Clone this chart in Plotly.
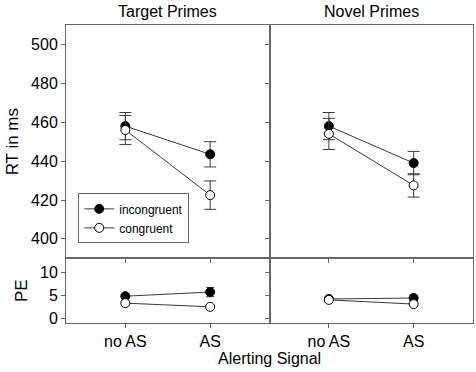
import plotly.graph_objects as go
from plotly.subplots import make_subplots

# ---- data ----
conditions = ["no AS", "AS"]
panels = ["Target Primes", "Novel Primes"]

rt_target_incong = [458.0, 443.5]
rt_target_incong_err = [7.0, 6.5]
rt_target_cong = [456.0, 422.5]
rt_target_cong_err = [7.5, 7.3]

rt_novel_incong = [458.0, 439.0]
rt_novel_incong_err = [7.0, 6.0]
rt_novel_cong = [454.0, 427.5]
rt_novel_cong_err = [8.0, 6.0]

pe_target_incong = [4.8, 5.7]
pe_target_incong_err = [0.5, 1.0]
pe_target_cong = [3.3, 2.5]
pe_target_cong_err = [0.4, 0.4]

pe_novel_incong = [4.2, 4.4]
pe_novel_incong_err = [0.5, 0.6]
pe_novel_cong = [4.0, 3.1]
pe_novel_cong_err = [0.5, 0.4]

rt_ticks = [400, 420, 440, 460, 480, 500]
pe_ticks = [0, 5, 10]

FONT = "Liberation Sans, Arial, sans-serif"
LINE = "#666666"
TRACE_LINE = "#3a3a3a"

fig = make_subplots(rows=2, cols=2, shared_xaxes=False,
                    horizontal_spacing=0, vertical_spacing=0,
                    row_heights=[0.783, 0.217])

xpos = [1, 2]

def add_pair(row, col, inc, inc_err, con, con_err, legend, capw):
    fig.add_trace(go.Scatter(
        x=xpos, y=inc, mode="lines+markers", name="incongruent",
        showlegend=legend, legendrank=1,
        line=dict(color=TRACE_LINE, width=1),
        marker=dict(symbol="circle", size=9, color="black",
                    line=dict(color="black", width=1)),
        error_y=dict(type="data", array=inc_err, visible=True,
                     color=TRACE_LINE, thickness=1, width=capw),
    ), row=row, col=col)
    fig.add_trace(go.Scatter(
        x=xpos, y=con, mode="lines+markers", name="congruent",
        showlegend=legend, legendrank=2,
        line=dict(color=TRACE_LINE, width=1),
        marker=dict(symbol="circle", size=9, color="white",
                    line=dict(color="black", width=1)),
        error_y=dict(type="data", array=con_err, visible=True,
                     color=TRACE_LINE, thickness=1, width=capw),
    ), row=row, col=col)

add_pair(1, 1, rt_target_incong, rt_target_incong_err,
         rt_target_cong, rt_target_cong_err, True, 6)
add_pair(1, 2, rt_novel_incong, rt_novel_incong_err,
         rt_novel_cong, rt_novel_cong_err, False, 6)
add_pair(2, 1, pe_target_incong, pe_target_incong_err,
         pe_target_cong, pe_target_cong_err, False, 4)
add_pair(2, 2, pe_novel_incong, pe_novel_incong_err,
         pe_novel_cong, pe_novel_cong_err, False, 4)

axis_common = dict(showline=True, linecolor=LINE, linewidth=1, mirror=True,
                   ticks="outside", ticklen=4, tickcolor=LINE, tickwidth=1,
                   showgrid=False, zeroline=False,
                   tickfont=dict(family=FONT, size=16, color="black"))

for r in (1, 2):
    for c in (1, 2):
        fig.update_xaxes(range=[0.3, 2.7], tickvals=xpos, ticktext=conditions,
                         showticklabels=(r == 2), row=r, col=c, **axis_common)

fig.update_yaxes(range=[390, 510], tickvals=rt_ticks, row=1, col=1,
                 title=dict(text="RT in ms", font=dict(family=FONT, size=17, color="black"),
                            standoff=8), **axis_common)
fig.update_yaxes(range=[390, 510], tickvals=rt_ticks, showticklabels=False,
                 row=1, col=2, **axis_common)
fig.update_yaxes(range=[-1, 13], tickvals=pe_ticks, row=2, col=1,
                 title=dict(text="PE", font=dict(family=FONT, size=17, color="black"),
                            standoff=8), **axis_common)
fig.update_yaxes(range=[-1, 13], tickvals=pe_ticks, showticklabels=False,
                 row=2, col=2, **axis_common)

annotations = [
    dict(text=panels[0], x=0.25, y=1.0, xref="paper", yref="paper",
         xanchor="center", yanchor="bottom", yshift=3, showarrow=False,
         font=dict(family=FONT, size=16, color="black")),
    dict(text=panels[1], x=0.75, y=1.0, xref="paper", yref="paper",
         xanchor="center", yanchor="bottom", yshift=3, showarrow=False,
         font=dict(family=FONT, size=16, color="black")),
    dict(text="Alerting Signal", x=0.5, y=0, xref="paper", yref="paper",
         xanchor="center", yanchor="top", yshift=-25, showarrow=False,
         font=dict(family=FONT, size=16, color="black")),
]

fig.update_layout(
    width=476, height=372,
    margin=dict(l=66, r=3, t=25, b=49),
    paper_bgcolor="white", plot_bgcolor="white",
    annotations=annotations,
    showlegend=True,
    legend=dict(x=0.03, y=0.435, xanchor="left", yanchor="top",
                bgcolor="white", bordercolor=LINE, borderwidth=1,
                font=dict(family=FONT, size=12, color="black"),
                tracegroupgap=0, itemwidth=30),
    font=dict(family=FONT, color="black"),
)

fig.write_html("out.html", config={"displayModeBar": False},
               post_script="document.body.style.margin='0';document.body.style.overflow='hidden';")
